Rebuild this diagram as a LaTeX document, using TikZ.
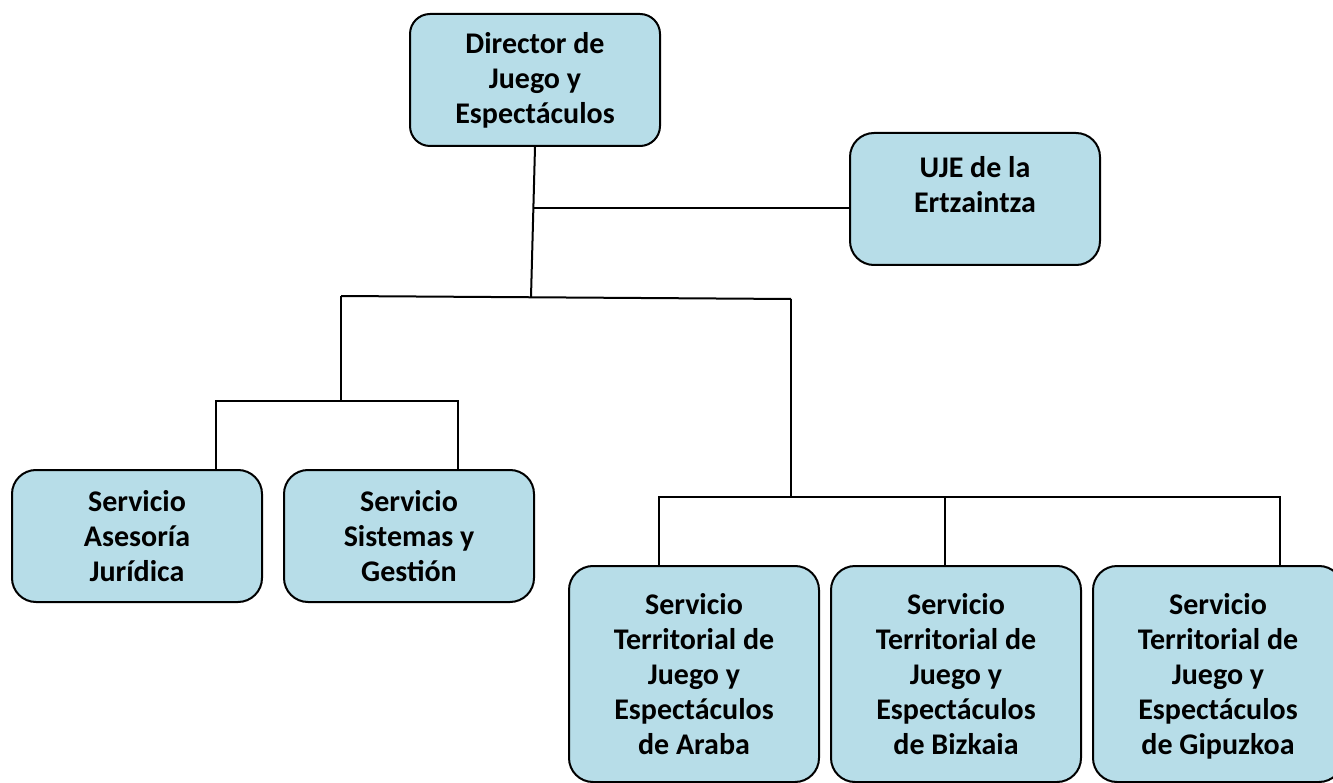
\documentclass[tikz,border=0pt]{standalone}
\usepackage{fontspec}
\setmainfont{Carlito}
\usetikzlibrary{positioning}
\definecolor{boxblue}{RGB}{183,221,232}

\begin{document}
\begin{tikzpicture}[
    x=1pt, y=-1pt,
    node distance=20pt,
    box/.style={rectangle, draw=black, line width=2pt, fill=boxblue, minimum width=250pt, minimum height=132pt, inner sep=0pt, text centered, align=center, rounded corners=24pt, font=\fontsize{30}{35}\selectfont\bfseries},
    tallbox/.style={box, minimum height=216pt, text depth=0pt},
    line/.style={line width=2pt}
]
\useasboundingbox (0,0) rectangle (1333,783);

\node[box, rounded corners=20pt] (director) at (535,80) {Director de\\Juego y\\Espectáculos};
\node[box, text depth=30pt] (uje) at (975,199) {UJE de la\\Ertzaintza};
\node[box] (asesoria) at (137,536) {Servicio\\Asesoría\\Jurídica};
\node[box, right=of asesoria] (sistemas) {Servicio\\Sistemas y\\Gestión};
\node[tallbox] (araba) at (694,674) {Servicio\\Territorial de\\Juego y\\Espectáculos\\de Araba};
\node[tallbox, right=10pt of araba] (bizkaia) {Servicio\\Territorial de\\Juego y\\Espectáculos\\de Bizkaia};
\node[tallbox, right=10pt of bizkaia] (gipuzkoa) {Servicio\\Territorial de\\Juego y\\Espectáculos\\de Gipuzkoa};

% trunk and branches
\coordinate (trunk) at (531,297);
\coordinate (ujebranch) at (534,208);
\coordinate (topleft) at (341,296);
\coordinate (topright) at (791,299);
\coordinate (leftfork) at (341,401);
\coordinate (rightfork) at (791,497);
\coordinate (forkA) at (216,401);
\coordinate (forkB) at (458,401);
\coordinate (forkC) at (659,497);
\coordinate (forkD) at (945,497);
\coordinate (forkE) at (1280,497);

\draw[line] (director.south) -- (trunk);
\draw[line] (ujebranch) -- (ujebranch -| uje.west);
\draw[line] (topleft) -- (topright);
\draw[line] (topleft) -- (leftfork);
\draw[line] (topright) -- (rightfork);
\draw[line] (asesoria.north -| forkA) -- (forkA) -- (forkB) -- (sistemas.north -| forkB);
\draw[line] (araba.north -| forkC) -- (forkC) -- (forkE) -- (gipuzkoa.north -| forkE);
\draw[line] (forkD) -- (bizkaia.north -| forkD);

\end{tikzpicture}
\end{document}
